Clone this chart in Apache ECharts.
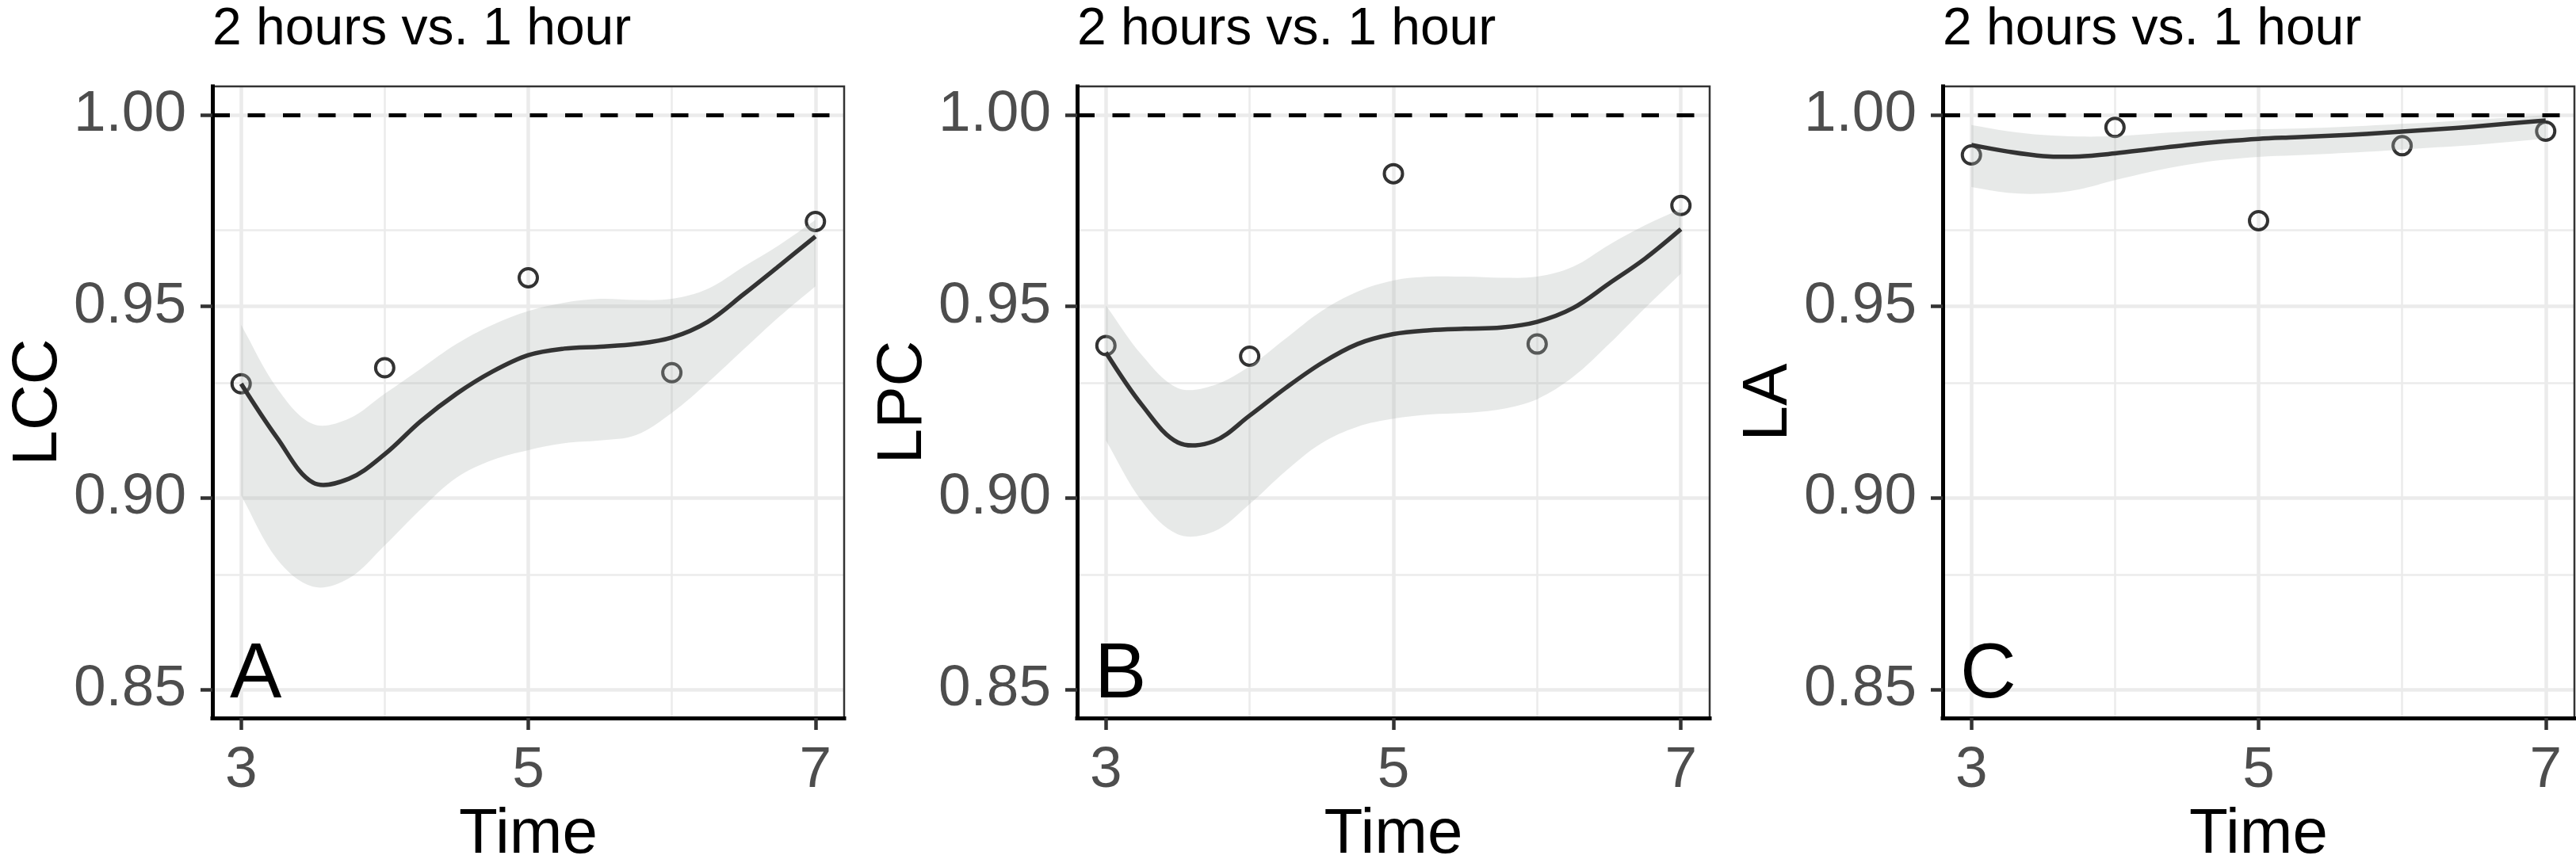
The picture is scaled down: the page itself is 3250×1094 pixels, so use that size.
<!DOCTYPE html>
<html>
<head>
<meta charset="utf-8">
<title>2 hours vs. 1 hour</title>
<script src="https://cdn.jsdelivr.net/npm/echarts@6/dist/echarts.min.js"></script>
<style>
  html, body { margin: 0; padding: 0; background: #fff; }
  #chart { width: 3250px; height: 1094px; }
</style>
</head>
<body>
<div id="chart"></div>
<script>
  // observed points
  const timePoints = [3, 4, 5, 6, 7];
  const lccPoints = [0.9298, 0.9340, 0.9575, 0.9327, 0.9722];
  const lpcPoints = [0.9398, 0.9370, 0.9847, 0.9402, 0.9764];
  const laPoints = [0.9896, 0.9968, 0.9724, 0.9920, 0.9958];

  // smooth fit + band, read every 0.25
  const fitTime = [3, 3.25, 3.5, 3.75, 4, 4.25, 4.5, 4.75, 5, 5.25, 5.5, 5.75, 6, 6.25, 6.5, 6.75, 7];
  const lccFit = [0.9298, 0.9157, 0.9040, 0.9050, 0.9114, 0.9200, 0.9272, 0.9330, 0.9373, 0.9390, 0.9395, 0.9402, 0.9419, 0.9460, 0.9532, 0.9607, 0.9683];
  const lccHigh = [0.9452, 0.9287, 0.9193, 0.9207, 0.9272, 0.9337, 0.9402, 0.9452, 0.9488, 0.9510, 0.9520, 0.9517, 0.9520, 0.9546, 0.9604, 0.9661, 0.9726];
  const lccLow = [0.9006, 0.8840, 0.8768, 0.8790, 0.8876, 0.8970, 0.9053, 0.9099, 0.9125, 0.9143, 0.9150, 0.9164, 0.9222, 0.9301, 0.9388, 0.9474, 0.9553];
  const lpcFit = [0.9380, 0.9243, 0.9145, 0.9148, 0.9215, 0.9287, 0.9352, 0.9402, 0.9428, 0.9438, 0.9442, 0.9445, 0.9460, 0.9496, 0.9560, 0.9625, 0.9702];
  const lpcHigh = [0.9503, 0.9373, 0.9287, 0.9294, 0.9344, 0.9416, 0.9488, 0.9539, 0.9568, 0.9578, 0.9578, 0.9575, 0.9578, 0.9604, 0.9661, 0.9712, 0.9755];
  const lpcLow = [0.9150, 0.8991, 0.8905, 0.8912, 0.8984, 0.9070, 0.9143, 0.9186, 0.9207, 0.9218, 0.9222, 0.9232, 0.9258, 0.9316, 0.9402, 0.9496, 0.9586];
  const laFit = [0.9922, 0.9905, 0.9893, 0.9892, 0.9900, 0.9911, 0.9922, 0.9931, 0.9938, 0.9942, 0.9946, 0.9951, 0.9957, 0.9963, 0.9970, 0.9978, 0.9986];
  const laHigh = [0.9974, 0.9958, 0.9948, 0.9944, 0.9945, 0.9951, 0.9957, 0.9960, 0.9963, 0.9965, 0.9968, 0.9972, 0.9977, 0.9982, 0.9988, 0.9994, 1.0000];
  const laLow = [0.9812, 0.9797, 0.9795, 0.9806, 0.9830, 0.9852, 0.9870, 0.9883, 0.9891, 0.9895, 0.9899, 0.9904, 0.9910, 0.9916, 0.9922, 0.9930, 0.9939];

  const xTicks = [3, 5, 7];
  const xMinor = [4, 6];
  const yTicks = [0.85, 0.90, 0.95, 1.00];
  const yMinor = [0.875, 0.925, 0.975];
  const refLine = 1.00;

  const panelTitle = '2 hours vs. 1 hour';
  const xName = 'Time';

  const panels = [
    { yName: 'LCC', tag: 'A', pts: lccPoints, fit: lccFit, high: lccHigh, low: lccLow, left: 268, width: 797 },
    { yName: 'LPC', tag: 'B', pts: lpcPoints, fit: lpcFit, high: lpcHigh, low: lpcLow, left: 1359, width: 798 },
    { yName: 'LA', tag: 'C', pts: laPoints, fit: laFit, high: laHigh, low: laLow, left: 2451, width: 797 }
  ];

  const FONT = '"Liberation Sans", Arial, Helvetica, sans-serif';
  const GRID_TOP = 109;
  const GRID_H = 797;
  const SMOOTH = 0.35;

  const grid = [], xAxis = [], yAxis = [], series = [], graphic = [];

  panels.forEach((p, i) => {
    grid.push({
      left: p.left, top: GRID_TOP, width: p.width, height: GRID_H,
      show: true, borderColor: '#333333', borderWidth: 2.5, backgroundColor: 'transparent',
      containLabel: false, outerBoundsMode: 'none', z: 6
    });

    xAxis.push({
      gridIndex: i, type: 'value', min: 2.8, max: 7.2, z: 7,
      axisLine: { show: true, onZero: false, lineStyle: { color: '#000', width: 5, cap: 'square' } },
      axisTick: { show: true, length: 15, customValues: xTicks, lineStyle: { color: '#333333', width: 4.5 } },
      axisLabel: { customValues: xTicks, color: '#4D4D4D', fontSize: 73, fontFamily: FONT, margin: 30 },
      splitLine: { show: false },
      name: xName, nameLocation: 'middle', nameGap: 108,
      nameTextStyle: { color: '#000', fontSize: 80, fontFamily: FONT }
    });

    yAxis.push({
      gridIndex: i, type: 'value', min: 0.8425, max: 1.0075, z: 7,
      axisLine: { show: true, onZero: false, lineStyle: { color: '#000', width: 5, cap: 'square' } },
      axisTick: { show: true, length: 15, customValues: yTicks, lineStyle: { color: '#333333', width: 4.5 } },
      axisLabel: {
        customValues: yTicks, color: '#4D4D4D', fontSize: 73, fontFamily: FONT, margin: 33,
        formatter: v => Number(v).toFixed(2)
      },
      splitLine: { show: false },
      name: p.yName, nameLocation: 'middle', nameGap: 178, nameRotate: 90,
      nameTextStyle: { color: '#000', fontSize: 80, fontFamily: FONT }
    });

    // background grid lines (major thicker than minor)
    const gridLines = []
      .concat(yTicks.map(v => ({ yAxis: v, lineStyle: { width: 4.5 } })))
      .concat(yMinor.map(v => ({ yAxis: v, lineStyle: { width: 2.5 } })))
      .concat(xTicks.map(v => ({ xAxis: v, lineStyle: { width: 4.5 } })))
      .concat(xMinor.map(v => ({ xAxis: v, lineStyle: { width: 2.5 } })));

    series.push({
      type: 'scatter', xAxisIndex: i, yAxisIndex: i, z: 2,
      data: timePoints.map((t, k) => [t, p.pts[k]]),
      symbol: 'circle', symbolSize: 23,
      itemStyle: { color: 'rgba(0,0,0,0)', borderColor: '#000', borderWidth: 4 },
      markLine: {
        z: 1, silent: true, symbol: 'none', animation: false,
        label: { show: false },
        lineStyle: { color: '#EBEBEB', type: 'solid' },
        data: gridLines
      }
    });

    // confidence band + fitted curve
    series.push({
      type: 'custom', xAxisIndex: i, yAxisIndex: i, z: 3, silent: true,
      data: [[fitTime[0], p.fit[0]]],
      renderItem: (params, api) => {
        const up = fitTime.map((t, k) => api.coord([t, p.high[k]]));
        const dn = fitTime.map((t, k) => api.coord([t, p.low[k]])).reverse();
        const mid = fitTime.map((t, k) => api.coord([t, p.fit[k]]));
        // doubled corner points keep the band ends straight
        const band = [up[0]].concat(up, [up[up.length - 1], dn[0]], dn, [dn[dn.length - 1]]);
        return {
          type: 'group',
          children: [
            {
              type: 'polygon',
              shape: { points: band, smooth: SMOOTH },
              style: { fill: 'rgba(175,182,180,0.3)', stroke: null }
            },
            {
              type: 'polyline',
              shape: { points: mid, smooth: SMOOTH },
              style: { fill: null, stroke: '#333333', lineWidth: 5.5, lineJoin: 'round' }
            }
          ]
        };
      },
      markLine: {
        z: 5, silent: true, symbol: 'none', animation: false,
        label: { show: false },
        lineStyle: { color: '#000', width: 5, type: [22, 22.5] },
        data: [{ yAxis: refLine }]
      }
    });

    graphic.push({
      type: 'text', x: p.left, y: 38, silent: true,
      style: { text: panelTitle, fontSize: 66, fontFamily: FONT, fill: '#000', align: 'left', verticalAlign: 'middle' }
    });
    graphic.push({
      type: 'text', x: p.left + 22, y: 853, silent: true, z: 8,
      style: { text: p.tag, fontSize: 98, fontFamily: FONT, fill: '#000', align: 'left', verticalAlign: 'middle' }
    });
  });

  const chart = echarts.init(document.getElementById('chart'), null, { renderer: 'canvas' });
  chart.setOption({
    backgroundColor: '#fff',
    animation: false,
    grid, xAxis, yAxis, series, graphic
  });
</script>
</body>
</html>
